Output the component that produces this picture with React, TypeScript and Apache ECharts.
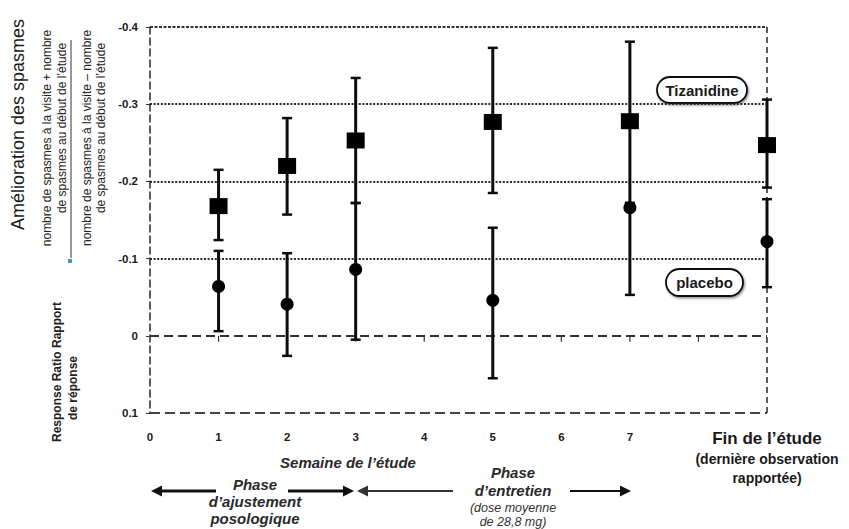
import React, { useEffect, useRef } from "react";
import * as echarts from "echarts";

// ---- data ----
const weeks = [1, 2, 3, 5, 7, 9];
const tizMean = [-0.168, -0.22, -0.253, -0.277, -0.278, -0.247];
const tizLower = [-0.124, -0.157, -0.172, -0.185, -0.172, -0.192];
const tizUpper = [-0.215, -0.282, -0.334, -0.373, -0.381, -0.306];
const plaMean = [-0.064, -0.041, -0.086, -0.046, -0.166, -0.122];
const plaLower = [-0.006, 0.026, 0.005, 0.055, -0.053, -0.063];
const plaUpper = [-0.11, -0.107, -0.172, -0.14, -0.172, -0.177];
const xTickLabels = ["0", "1", "2", "3", "4", "5", "6", "7", ""];
const finLabel = "Fin de l\u2019étude";
const finSubLabel = ["(dernière observation", "rapportée)"];
const zeroTickWeeks = [1, 2, 3, 4, 5, 6, 7, 8];
const dottedLevels = [-0.3, -0.2, -0.1];

const FONT = "Arial, 'Liberation Sans', Helvetica, sans-serif";
const INK = "#1a1a1a";

function arrow(x1: number, x2: number, y: number, w: number, color: string) {
  const dir = x2 > x1 ? 1 : -1;
  const head = 11;
  return [
    {
      type: "line",
      shape: { x1, y1: y, x2: x2 - dir * head + dir * 1, y2: y },
      style: { stroke: color, lineWidth: w },
    },
    {
      type: "polygon",
      shape: {
        points: [
          [x2, y],
          [x2 - dir * head, y - 5.5],
          [x2 - dir * head, y + 5.5],
        ],
      },
      style: { fill: color },
    },
  ];
}

function pill(cx: number, cy: number, w: number, h: number, label: string) {
  return {
    type: "group",
    children: [
      {
        type: "rect",
        shape: { x: cx - w / 2, y: cy - h / 2, width: w, height: h, r: h / 2 },
        style: {
          fill: "#fff",
          stroke: "#111",
          lineWidth: 1.8,
          shadowColor: "rgba(0,0,0,0.45)",
          shadowBlur: 2,
          shadowOffsetX: 1,
          shadowOffsetY: 1.5,
        },
      },
      {
        type: "text",
        x: cx,
        y: cy,
        style: {
          text: label,
          font: `bold 15px ${FONT}`,
          fill: INK,
          textAlign: "center",
          textVerticalAlign: "middle",
        },
      },
    ],
  };
}

function errorBarSeries(name: string, lower: number[], upper: number[]) {
  return {
    type: "custom",
    name,
    z: 3,
    encode: { x: 0, y: [1, 2] },
    data: weeks.map((w, i) => [w, lower[i], upper[i]]),
    renderItem: (_params: any, api: any) => {
      const x = api.value(0);
      const lo = api.coord([x, api.value(1)]);
      const hi = api.coord([x, api.value(2)]);
      const cap = 5;
      const s = { stroke: "#0d0d0d", lineWidth: 3 };
      const c = { stroke: "#0d0d0d", lineWidth: 2.5 };
      return {
        type: "group",
        children: [
          { type: "line", shape: { x1: lo[0], y1: lo[1], x2: hi[0], y2: hi[1] }, style: s },
          { type: "line", shape: { x1: lo[0] - cap, y1: lo[1], x2: lo[0] + cap, y2: lo[1] }, style: c },
          { type: "line", shape: { x1: hi[0] - cap, y1: hi[1], x2: hi[0] + cap, y2: hi[1] }, style: c },
        ],
      };
    },
  };
}

export default function App() {
  const ref = useRef<HTMLDivElement>(null);

  useEffect(() => {
    if (!ref.current) return;
    const chart = echarts.init(ref.current, undefined, { renderer: "svg" });

    const dotted = { color: "#2a2a2a", width: 1.8, type: [2, 1.6] as any };
    const markData: any[] = [
      { yAxis: -0.4, lineStyle: { color: "#333", width: 2, type: [3, 1.5] } },
      ...dottedLevels.map((v) => ({ yAxis: v, lineStyle: dotted })),
      { yAxis: 0, lineStyle: { color: "#333", width: 1.8, type: [9, 5] } },
      { yAxis: 0.1, lineStyle: { color: "#444", width: 2.2, type: [10, 5] } },
      { xAxis: 9, lineStyle: { color: "#333", width: 1.6, type: [6, 4] } },
    ];

    const graphics: any[] = [
      {
        type: "text",
        x: 18,
        y: 230,
        rotation: Math.PI / 2,
        style: {
          text: "Amélioration des spasmes",
          font: `18px ${FONT}`,
          fill: INK,
          textAlign: "left",
          textVerticalAlign: "middle",
        },
      },
      {
        type: "text",
        x: 47,
        y: 138,
        rotation: Math.PI / 2,
        style: {
          text: "nombre de spasmes à la visite + nombre",
          font: `12px ${FONT}`,
          fill: "#222",
          textAlign: "center",
          textVerticalAlign: "middle",
        },
      },
      {
        type: "text",
        x: 62,
        y: 128,
        rotation: Math.PI / 2,
        style: {
          text: "de spasmes au début de l\u2019étude",
          font: `12px ${FONT}`,
          fill: "#222",
          textAlign: "center",
          textVerticalAlign: "middle",
        },
      },
      {
        type: "line",
        shape: { x1: 71, y1: 40, x2: 71, y2: 258 },
        style: { stroke: "#333", lineWidth: 1 },
      },
      {
        type: "rect",
        shape: { x: 68, y: 259, width: 4, height: 4 },
        style: { fill: "#4f95b8" },
      },
      {
        type: "text",
        x: 87,
        y: 138,
        rotation: Math.PI / 2,
        style: {
          text: "nombre de spasmes à la visite \u2013 nombre",
          font: `12px ${FONT}`,
          fill: "#222",
          textAlign: "center",
          textVerticalAlign: "middle",
        },
      },
      {
        type: "text",
        x: 101,
        y: 128,
        rotation: Math.PI / 2,
        style: {
          text: "de spasmes au début de l\u2019étude",
          font: `12px ${FONT}`,
          fill: "#222",
          textAlign: "center",
          textVerticalAlign: "middle",
        },
      },
      {
        type: "text",
        x: 57,
        y: 372,
        rotation: Math.PI / 2,
        style: {
          text: "Response Ratio Rapport",
          font: `bold 12px ${FONT}`,
          fill: "#222",
          textAlign: "center",
          textVerticalAlign: "middle",
        },
      },
      {
        type: "text",
        x: 73,
        y: 388,
        rotation: Math.PI / 2,
        style: {
          text: "de réponse",
          font: `bold 12px ${FONT}`,
          fill: "#222",
          textAlign: "center",
          textVerticalAlign: "middle",
        },
      },
      pill(702, 90, 90, 26, "Tizanidine"),
      pill(704.5, 282.5, 77, 27, "placebo"),
      {
        type: "text",
        x: 348,
        y: 462,
        style: {
          text: "Semaine de l\u2019étude",
          font: `italic bold 15px ${FONT}`,
          fill: "#2a2a2a",
          textAlign: "center",
          textVerticalAlign: "middle",
        },
      },
      {
        type: "text",
        x: 255,
        y: 501,
        style: {
          text: "Phase\nd\u2019ajustement\nposologique",
          font: `italic bold 15px ${FONT}`,
          lineHeight: 17,
          fill: "#2a2a2a",
          textAlign: "center",
          textVerticalAlign: "middle",
        },
      },
      {
        type: "text",
        x: 513,
        y: 481,
        style: {
          text: "Phase\nd\u2019entretien",
          font: `italic bold 15px ${FONT}`,
          lineHeight: 18,
          fill: "#2a2a2a",
          textAlign: "center",
          textVerticalAlign: "middle",
        },
      },
      {
        type: "text",
        x: 513,
        y: 515,
        style: {
          text: "(dose moyenne\nde 28,8 mg)",
          font: `italic 12.5px ${FONT}`,
          lineHeight: 14,
          fill: "#333",
          textAlign: "center",
          textVerticalAlign: "middle",
        },
      },
      ...arrow(216, 151, 491, 3, "#111"),
      ...arrow(288, 354, 491, 3, "#111"),
      ...arrow(453, 357, 491, 2, "#333"),
      ...arrow(570, 631, 491, 2, "#111"),
    ];

    chart.setOption({
      animation: false,
      backgroundColor: "#fff",
      grid: { left: 150, right: 82, top: 27, bottom: 116, containLabel: false },
      xAxis: {
        type: "value",
        min: 0,
        max: 9,
        interval: 1,
        axisLine: { show: false },
        axisTick: { show: false },
        splitLine: { show: false },
        axisLabel: {
          margin: 14,
          formatter: (v: number) => {
            const i = Math.round(v);
            if (i === 9) return `{fin|${finLabel}}\n{sub|${finSubLabel[0]}}\n{sub|${finSubLabel[1]}}`;
            return `{n|${xTickLabels[i] ?? ""}}`;
          },
          rich: {
            n: { fontFamily: FONT, fontSize: 11.5, fontWeight: "bold", color: INK, lineHeight: 20 },
            fin: { fontFamily: FONT, fontSize: 17, fontWeight: "bold", color: INK, lineHeight: 22, align: "center" },
            sub: { fontFamily: FONT, fontSize: 14, fontWeight: "bold", color: INK, lineHeight: 19, align: "center" },
          },
        },
      },
      yAxis: {
        type: "value",
        inverse: true,
        min: -0.4,
        max: 0.1,
        interval: 0.1,
        axisLine: { show: true, lineStyle: { color: "#333", width: 1.6, type: [7, 4] } },
        axisTick: { show: true, length: 4, lineStyle: { color: "#333" } },
        splitLine: { show: false },
        axisLabel: {
          margin: 12,
          fontFamily: FONT,
          fontSize: 11.5,
          fontWeight: "bold",
          color: INK,
          formatter: (v: number) => String(Number(v.toFixed(1))),
        },
      },
      graphic: graphics,
      series: [
        {
          type: "scatter",
          name: "grid lines",
          data: zeroTickWeeks.map((w) => [w, 0]),
          symbol: "rect",
          symbolSize: [1.2, 6],
          symbolOffset: [0, 3],
          itemStyle: { color: "#333", opacity: 1 },
          silent: true,
          z: 1,
          markLine: {
            silent: true,
            symbol: ["none", "none"],
            label: { show: false },
            data: markData,
            z: 1,
          },
        },
        errorBarSeries("Tizanidine IC", tizLower, tizUpper),
        errorBarSeries("placebo IC", plaLower, plaUpper),
        {
          type: "scatter",
          name: "Tizanidine",
          data: weeks.map((w, i) => [w, tizMean[i]]),
          symbol: "rect",
          symbolSize: [18, 16],
          itemStyle: { color: "#000", opacity: 1 },
          z: 5,
        },
        {
          type: "scatter",
          name: "placebo",
          data: weeks.map((w, i) => [w, plaMean[i]]),
          symbol: "circle",
          symbolSize: 13,
          itemStyle: { color: "#000", opacity: 1 },
          z: 5,
        },
      ],
    });

    return () => chart.dispose();
  }, []);

  return (
    <div
      ref={ref}
      style={{ position: "fixed", left: 0, top: 0, width: 849, height: 529, background: "#fff" }}
    />
  );
}
